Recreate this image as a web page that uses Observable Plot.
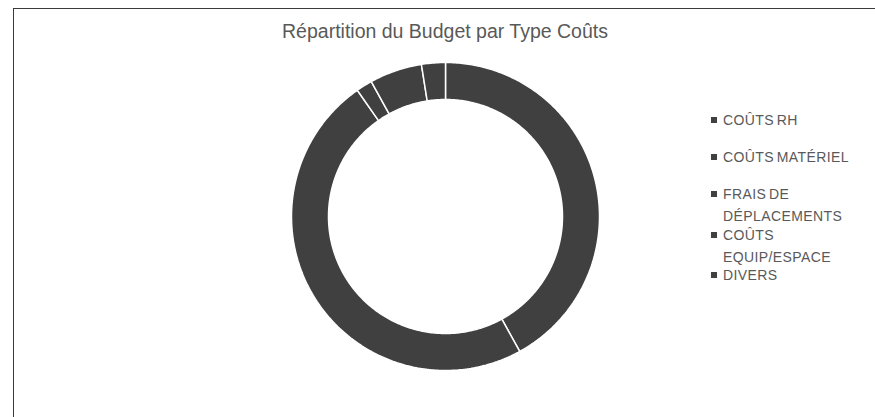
<!DOCTYPE html>
<html>
<head>
<meta charset="utf-8">
<script src="https://cdn.jsdelivr.net/npm/d3@7"></script>
<script src="https://cdn.jsdelivr.net/npm/@observablehq/plot@0.6"></script>
<style>
  html, body { margin: 0; padding: 0; background: #fff; }
  #wrap { position: relative; width: 875px; height: 417px; overflow: hidden; font-family: "Liberation Sans", Arial, sans-serif; }
  #frame { position: absolute; left: 13px; top: 8px; width: 900px; height: 450px; border-top: 1.5px solid #3a3a3a; border-left: 1.5px solid #3a3a3a; box-sizing: border-box; }
  #title { position: absolute; left: 0; width: 890px; top: 20px; text-align: center; font-size: 19.5px; color: #595959; }
  #chart { position: absolute; left: 285px; top: 56px; }
  .leg { position: absolute; left: 711px; width: 160px; font-size: 14px; letter-spacing: 0.4px; word-spacing: -1.5px; color: #595959; line-height: 22px; white-space: pre-line; }
  .leg .sw { position: absolute; left: 0; top: 8px; width: 6px; height: 6px; background: #404040; }
  .leg .tx { margin-left: 12px; display: block; }
</style>
</head>
<body>
<div id="wrap">
  <div id="frame"></div>
  <div id="title">Répartition du Budget par Type Coûts</div>
  <div id="chart"></div>
  <div id="legend"></div>
</div>
<script>
// Data (share of budget, %)
const categories = ["COÛTS RH", "COÛTS MATÉRIEL", "FRAIS DE DÉPLACEMENTS", "COÛTS EQUIP/ESPACE", "DIVERS"];
const values = [42.0, 48.3, 1.7, 5.5, 2.5];
const legendLabels = ["COÛTS RH", "COÛTS MATÉRIEL", "FRAIS DE\nDÉPLACEMENTS", "COÛTS\nEQUIP/ESPACE", "DIVERS"];
const legendTops = [109, 146, 183, 224, 264];

const outerR = 154, innerR = 117, half = 160;

const pie = d3.pie().sort(null).value(d => d.value)(categories.map((c, i) => ({cat: c, value: values[i]})));

// build slice outlines from pie angles
const pts = [];
for (const s of pie) {
  const n = Math.max(8, Math.ceil((s.endAngle - s.startAngle) * 80));
  const ring = [];
  for (let k = 0; k <= n; k++) {
    const a = s.startAngle + (s.endAngle - s.startAngle) * k / n;
    ring.push([outerR * Math.sin(a), outerR * Math.cos(a)]);
  }
  for (let k = n; k >= 0; k--) {
    const a = s.startAngle + (s.endAngle - s.startAngle) * k / n;
    ring.push([innerR * Math.sin(a), innerR * Math.cos(a)]);
  }
  ring.push(ring[0]);
  ring.forEach(([x, y]) => pts.push({cat: s.data.cat, x, y}));
}

const chart = Plot.plot({
  width: 2 * half,
  height: 2 * half,
  margin: 0,
  x: {domain: [-half, half], axis: null},
  y: {domain: [-half, half], axis: null},
  color: {domain: categories, range: categories.map(() => "#404040")},
  marks: [
    Plot.line(pts, {x: "x", y: "y", z: "cat", fill: "cat", stroke: "#ffffff", strokeWidth: 1.5, strokeLinejoin: "miter"})
  ]
});
document.getElementById("chart").appendChild(chart);

// legend
const leg = document.getElementById("legend");
categories.forEach((c, i) => {
  const d = document.createElement("div");
  d.className = "leg";
  d.style.top = legendTops[i] + "px";
  d.innerHTML = '<span class="sw"></span><span class="tx"></span>';
  d.querySelector(".tx").textContent = legendLabels[i];
  leg.appendChild(d);
});
</script>
</body>
</html>
